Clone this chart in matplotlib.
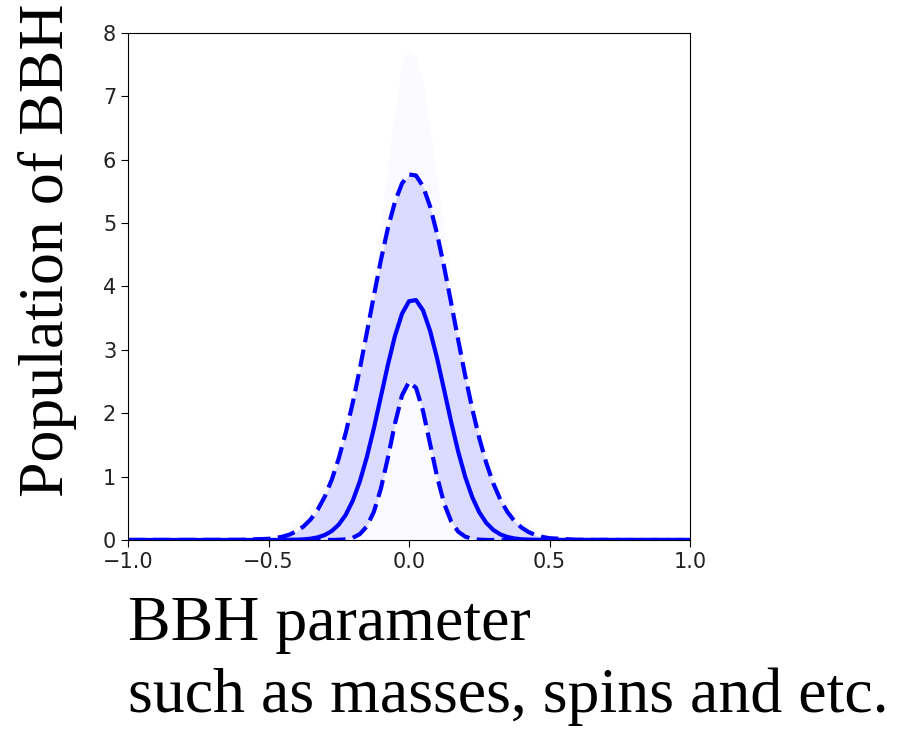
import numpy as np
import matplotlib
matplotlib.use('Agg')
import matplotlib.pyplot as plt

# x grid of the population curves
x = [-1.0, -0.8, -0.6, -0.5, -0.475, -0.45, -0.425, -0.4, -0.375, -0.35, -0.325,
     -0.3, -0.275, -0.25, -0.225, -0.2, -0.175, -0.15, -0.125, -0.1, -0.075,
     -0.05, -0.025, 0.0, 0.025, 0.05, 0.075, 0.1, 0.125, 0.15, 0.175, 0.2,
     0.225, 0.25, 0.275, 0.3, 0.325, 0.35, 0.375, 0.4, 0.425, 0.45, 0.475,
     0.5, 0.6, 0.8, 1.0]

# median of the draws
median = [0, 0, 0, 0.0001, 0.0003, 0.0008, 0.0019, 0.0045, 0.0098, 0.0205, 0.041,
          0.078, 0.141, 0.243, 0.398, 0.622, 0.925, 1.309, 1.764, 2.264, 2.767,
          3.220, 3.569, 3.767, 3.785, 3.622, 3.300, 2.864, 2.366, 1.862, 1.395, 0.995,
          0.676, 0.437, 0.269, 0.158, 0.088, 0.047, 0.024, 0.011, 0.005, 0.002, 0.001,
          0, 0, 0, 0]

# 90% band
upper = [0, 0, 0.0015, 0.018, 0.031, 0.052, 0.086, 0.138, 0.215, 0.325, 0.477,
         0.683, 0.951, 1.287, 1.694, 2.169, 2.702, 3.273, 3.855, 4.417, 4.923,
         5.336, 5.625, 5.767, 5.751, 5.578, 5.262, 4.828, 4.308, 3.739, 3.156, 2.591,
         2.069, 1.607, 1.214, 0.892, 0.637, 0.443, 0.299, 0.197, 0.126, 0.078, 0.047,
         0.028, 0.003, 0, 0]
lower = [0, 0, 0, 0, 0, 0, 0, 0, 0, 0, 0,
         0, 0, 0.003, 0.011, 0.034, 0.092, 0.215, 0.446, 0.812, 1.301,
         1.836, 2.281, 2.494, 2.400, 2.033, 1.516, 0.996, 0.575, 0.293, 0.131, 0.052,
         0.018, 0.005, 0, 0, 0, 0, 0, 0, 0, 0, 0,
         0, 0, 0, 0]

# envelope of all draws
draw_max = [0, 0, 0.01, 0.07, 0.1, 0.15, 0.21, 0.3, 0.4, 0.53, 0.7,
            0.9, 1.15, 1.45, 1.8, 2.25, 2.8, 3.45, 4.2, 5.0, 5.9,
            6.8, 7.5, 7.75, 7.6, 7.2, 6.5, 5.7, 4.9, 4.1, 3.4, 2.8,
            2.25, 1.8, 1.4, 1.1, 0.85, 0.63, 0.47, 0.34, 0.24, 0.17, 0.11,
            0.07, 0.01, 0, 0]

xticks = [-1.0, -0.5, 0.0, 0.5, 1.0]
yticks = [0, 1, 2, 3, 4, 5, 6, 7, 8]

fig = plt.figure(figsize=(9.04, 7.29), dpi=100)
ax = fig.add_axes([0.1416, 0.2593, 0.6217, 0.6955])

ax.fill_between(x, 0, draw_max, color='blue', alpha=0.02, lw=0)
ax.fill_between(x, lower, upper, color='blue', alpha=0.12, lw=0)
ax.plot(x, median, color='blue', lw=3.0)
ax.plot(x, upper, color='blue', lw=3.0, ls='--', dashes=(4.2, 1.8))
ax.plot(x, lower, color='blue', lw=3.0, ls='--', dashes=(4.2, 1.8))

ax.set_xlim(-1, 1)
ax.set_ylim(0, 8)
ax.set_xticks(xticks)
ax.set_yticks(yticks)
ax.tick_params(labelsize=15, length=5, labelcolor='#222222')

serif = ['Liberation Serif', 'DejaVu Serif']
fig.text(0.053, 0.318, 'Population of BBH', rotation=90, ha='center', va='bottom',
         family=serif, fontsize=46)
fig.text(0.142, 0.122, 'BBH parameter', ha='left', va='baseline',
         family=serif, fontsize=46)
fig.text(0.142, 0.023, 'such as masses, spins and etc.', ha='left', va='baseline',
         family=serif, fontsize=46)

plt.savefig('out.png', dpi=100)
